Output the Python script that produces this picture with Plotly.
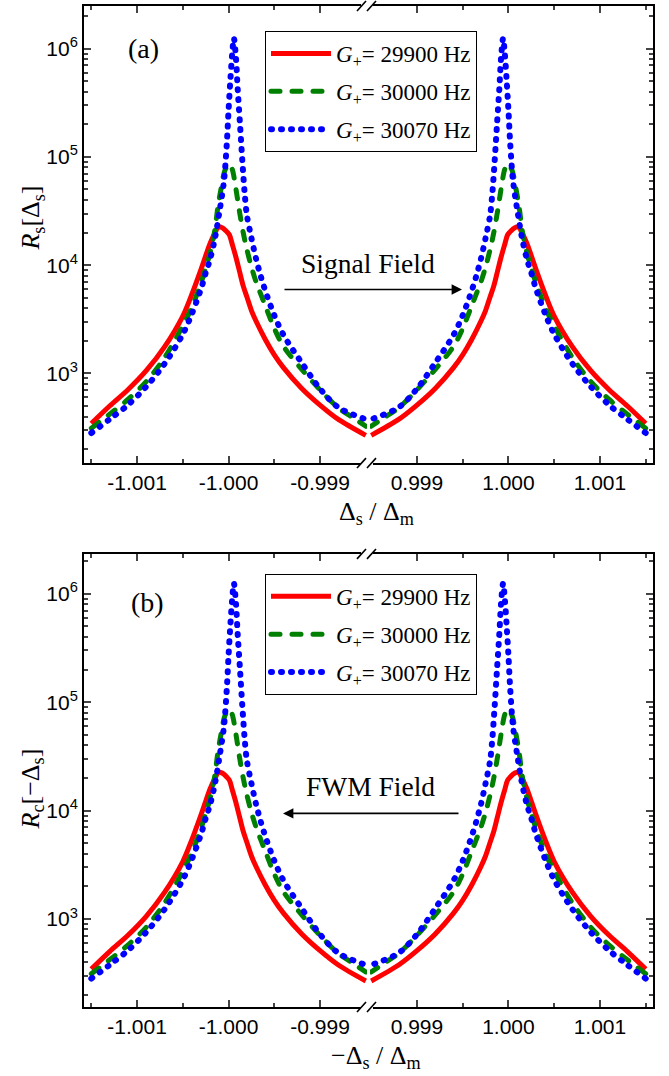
import plotly.graph_objects as go

# ---------------- data ----------------
# detuning offsets from the resonance at -1 (units of 1e-6 of Delta_m);
# the resonance at +1 is the mirror image
d_red = [-1500, -1300, -1100, -900, -700, -500, -400, -300, -250, -200, -150, -110, -80, -50, -20,
         10, 40, 80, 120, 160, 200, 250, 300, 400, 500, 600, 800, 1000, 1200, 1500]
v_red = [345, 500, 707, 1059, 1758, 3390, 5420, 9200, 12200, 16000, 19700, 22600, 22400, 21600, 20400,
         19000, 15600, 11900, 8740, 6440, 5100, 3810, 3050, 2070, 1485, 1132, 727, 510, 376, 268]

d_green = [-1500, -1300, -1100, -900, -700, -500, -400, -300, -250, -200, -150, -120, -80, -40, 0,
           10, 40, 80, 120, 160, 200, 250, 300, 400, 500, 600, 800, 1000, 1200, 1350, 1500]
v_green = [312, 420, 575, 840, 1400, 2750, 4100, 6900, 9300, 13200, 21000, 33000, 52000, 75000, 85000,
           86000, 77000, 51000, 31000, 20000, 14000, 9600, 7050, 4250, 2600, 1780, 1090, 705, 480, 395, 325]

d_blue = [-1500, -1300, -1100, -900, -700, -500, -400, -300, -250, -200, -150, -100, -50, -20, 0,
          20, 40, 58, 80, 100, 125, 150, 175, 200, 250, 300, 350, 400, 500, 600, 800, 1000, 1200, 1500]
v_blue = [282, 377, 512, 755, 1227, 2305, 3575, 6090, 8470, 11500, 17500, 31000, 60000, 130000, 270000,
          520000, 900000, 1250000, 830000, 420000, 200000, 93000, 47000, 29000, 17800, 11500, 8000, 5860,
          3440, 2270, 1250, 721, 485, 377]

series_names = ["<i>G</i><sub>+</sub>= 29900 Hz", "<i>G</i><sub>+</sub>= 30000 Hz",
                "<i>G</i><sub>+</sub>= 30070 Hz"]

x_left_ticks = [-1.001, -1.000, -0.999]
x_left_text = ["-1.001", "-1.000", "-0.999"]
x_right_ticks = [0.999, 1.000, 1.001]
x_right_text = ["0.999", "1.000", "1.001"]
x_left_minor = [-1.0015, -1.0005, -0.9995]
x_right_minor = [0.9995, 1.0005, 1.0015]
y_ticks = [1e3, 1e4, 1e5, 1e6]
y_text = ["10<sup>3</sup>", "10<sup>4</sup>", "10<sup>5</sup>", "10<sup>6</sup>"]

# ---------------- geometry ----------------
W, H = 669, 1076
ML, MR, MT, MB = 84, 16, 4, 69
PW, PH = W - ML - MR, H - MT - MB


def px(x):
    return (x - ML) / PW


def py(y):
    return 1 - (y - MT) / PH


styles = [
    dict(color="#ff0000", width=5, dash="solid"),
    dict(color="#008000", width=5, dash="9px,12px"),
    dict(color="#0000ff", width=6, dash="1px,9px"),
]
data_sets = [(d_red, v_red), (d_green, v_green), (d_blue, v_blue)]

fig = go.Figure()
panels = [("x", "y", "x2", "y2", "legend"), ("x3", "y3", "x4", "y4", "legend2")]
for (xl, yl, xr, yr, lg) in panels:
    for i, ((dd, vv), st) in enumerate(zip(data_sets, styles)):
        xs_left = [-1 + d * 1e-6 for d in dd]
        xs_right = [1 - d * 1e-6 for d in dd]
        fig.add_trace(go.Scatter(x=xs_left, y=vv, xaxis=xl, yaxis=yl, mode="lines",
                                 line=dict(shape="spline", smoothing=0.9, **st),
                                 name=series_names[i], legend=lg, legendgroup=lg + str(i),
                                 showlegend=True))
        fig.add_trace(go.Scatter(x=xs_right, y=vv, xaxis=xr, yaxis=yr, mode="lines",
                                 line=dict(shape="spline", smoothing=0.9, **st),
                                 name=series_names[i], legend=lg, legendgroup=lg + str(i),
                                 showlegend=False))

tickfont = dict(family="Liberation Sans", size=21, color="black")
serif = "Liberation Serif"

xl_dom = [0, px(367)]
xr_dom = [px(370), 1]
ya_dom = [py(462), 1]
yb_dom = [0, py(553)]
left_range = [-1.00158, -0.998487]
right_range = [0.998487, 1.00158]
ya_range = [2.172, 6.3935]
yb_range = [2.188, 6.368]


def xaxis(dom, rng, tv, tt, mv, anchor):
    return dict(domain=dom, range=rng, anchor=anchor, tickmode="array", tickvals=tv, ticktext=tt,
                ticks="inside", ticklen=7, tickwidth=1.5, showline=True, linewidth=2, linecolor="black",
                mirror="ticks", showgrid=False, zeroline=False, tickfont=tickfont,
                minor=dict(tickvals=mv, ticks="inside", ticklen=4, tickwidth=1.5, showgrid=False))


minor_y = [m * 10 ** e for e in range(2, 7) for m in range(2, 10)]


def yaxis(dom, rng, anchor, side, labels, match=None):
    d = dict(domain=dom, range=rng, type="log", anchor=anchor, side=side, tickmode="array",
             tickvals=y_ticks, ticktext=y_text, showticklabels=labels,
             ticks="inside", ticklen=7, tickwidth=1.5, showline=True, linewidth=2, linecolor="black",
             showgrid=False, zeroline=False, tickfont=tickfont,
             minor=dict(tickvals=minor_y, ticks="inside", ticklen=4, tickwidth=1.5, showgrid=False))
    if match:
        d["matches"] = match
    return d


legend_common = dict(xanchor="left", yanchor="top", bordercolor="black", borderwidth=1,
                     bgcolor="white", font=dict(family=serif, size=23, color="black"),
                     tracegroupgap=5, itemwidth=60)
fig.update_layout(
    width=W, height=H, margin=dict(l=ML, r=MR, t=MT, b=MB),
    paper_bgcolor="white", plot_bgcolor="white",
    xaxis=xaxis(xl_dom, left_range, x_left_ticks, x_left_text, x_left_minor, "y"),
    xaxis2=xaxis(xr_dom, right_range, x_right_ticks, x_right_text, x_right_minor, "y2"),
    xaxis3=xaxis(xl_dom, left_range, x_left_ticks, x_left_text, x_left_minor, "y3"),
    xaxis4=xaxis(xr_dom, right_range, x_right_ticks, x_right_text, x_right_minor, "y4"),
    yaxis=yaxis(ya_dom, ya_range, "x", "left", True),
    yaxis2=yaxis(ya_dom, ya_range, "x2", "right", False, "y"),
    yaxis3=yaxis(yb_dom, yb_range, "x3", "left", True),
    yaxis4=yaxis(yb_dom, yb_range, "x4", "right", False, "y3"),
    legend=dict(x=px(265), y=py(29), **legend_common),
    legend2=dict(x=px(265), y=py(573), **legend_common),
    showlegend=True,
)


def label(text, xpix, ypix, size, angle=0):
    return dict(text=text, x=px(xpix), y=py(ypix), xref="paper", yref="paper", showarrow=False,
                xanchor="center", yanchor="middle", textangle=angle,
                font=dict(family=serif, size=size, color="black"))


ann = [
    label("(a)", 143, 47, 28),
    label("(b)", 147, 602, 28),
    label("<i>R</i><sub>s</sub>[Δ<sub>s</sub>]", 32, 216, 26, -90),
    label("<i>R</i><sub>c</sub>[−Δ<sub>s</sub>]", 32, 788, 26, -90),
    label("Δ<sub>s</sub> / Δ<sub>m</sub>", 377, 512, 26),
    label("−Δ<sub>s</sub> / Δ<sub>m</sub>", 376, 1057, 26),
    label("Signal Field", 368, 262, 27.5),
    label("FWM Field", 370, 786, 27.5),
]
# arrows
ann.append(dict(text="", x=px(462), y=py(288), ax=283 - 462, ay=0, xref="paper", yref="paper",
                axref="pixel", ayref="pixel", showarrow=True, arrowhead=2, arrowsize=1.3, arrowwidth=1.6,
                arrowcolor="black"))
ann.append(dict(text="", x=px(283), y=py(813), ax=460 - 283, ay=0, xref="paper", yref="paper",
                axref="pixel", ayref="pixel", showarrow=True, arrowhead=2, arrowsize=1.3, arrowwidth=1.6,
                arrowcolor="black"))
fig.update_layout(annotations=ann)

shapes = []
for yline in [4, 462, 553, 1007]:
    shapes.append(dict(type="rect", xref="paper", yref="paper", x0=px(361), x1=px(373),
                       y0=py(yline + 3), y1=py(yline - 3), fillcolor="white", line=dict(width=0),
                       layer="above"))
    for xs in [357, 367]:
        shapes.append(dict(type="line", xref="paper", yref="paper", x0=px(xs), y0=py(yline + 5),
                           x1=px(xs + 9), y1=py(yline - 5), line=dict(color="black", width=1.6),
                           layer="above"))
fig.update_layout(shapes=shapes)

post = """
document.body.style.margin = '0';
document.body.style.padding = '0';
document.documentElement.style.overflow = 'hidden';
var gd = document.getElementById('{plot_id}');
function fixCaps(){
  gd.querySelectorAll('path.js-line').forEach(function(p){
    var da = p.style.strokeDasharray;
    if (da && da !== 'none') { p.style.strokeLinecap = 'round'; }
  });
}
fixCaps();
if (gd.on) { gd.on('plotly_afterplot', fixCaps); }
"""
fig.write_html("out.html", post_script=post, config={"displayModeBar": False})
